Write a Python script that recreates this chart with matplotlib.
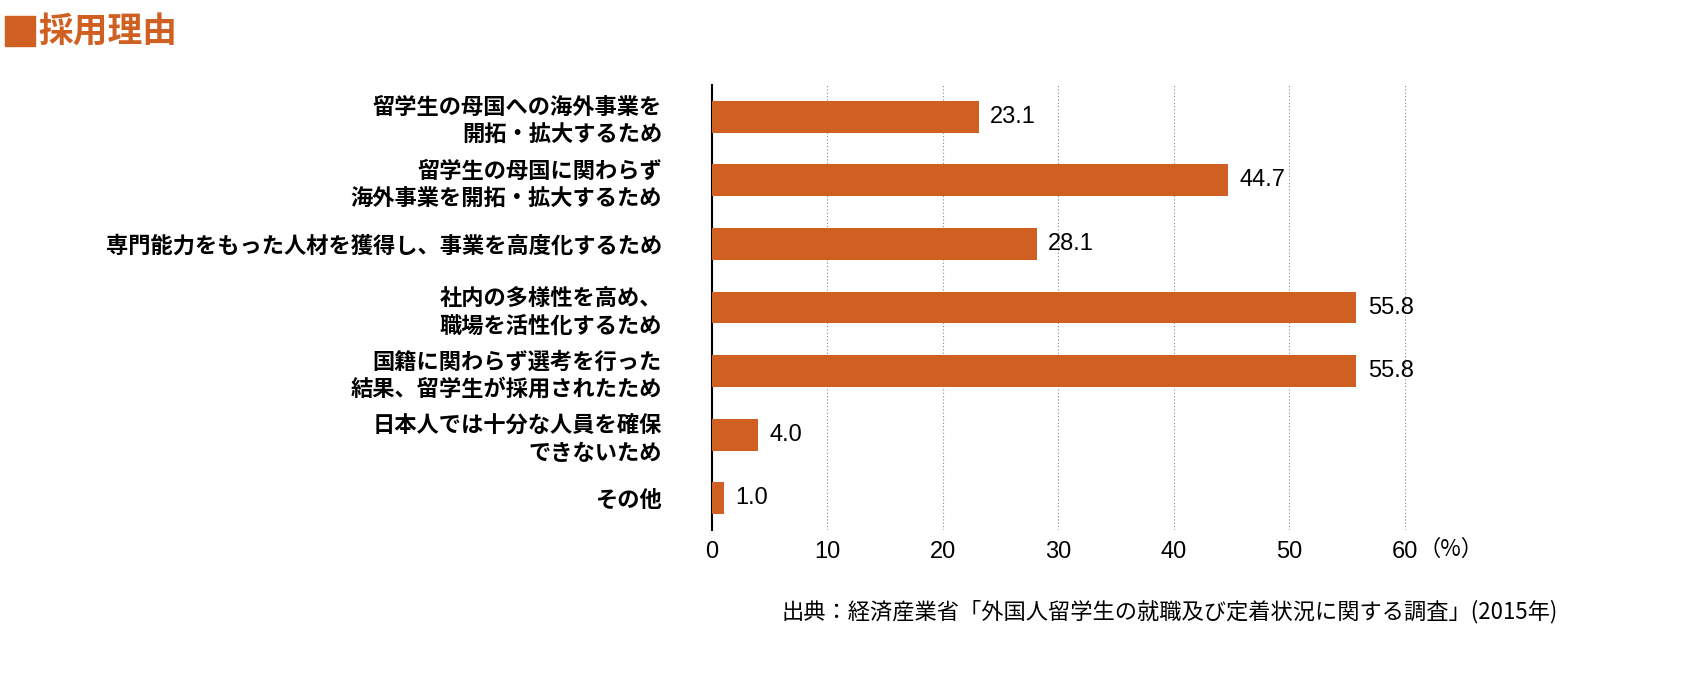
import matplotlib.pyplot as plt
from matplotlib.patches import Rectangle

plt.rcParams['font.family'] = 'Noto Sans CJK JP'

categories = [
    "留学生の母国への海外事業を\n開拓・拡大するため",
    "留学生の母国に関わらず\n海外事業を開拓・拡大するため",
    "専門能力をもった人材を獲得し、事業を高度化するため",
    "社内の多様性を高め、\n職場を活性化するため",
    "国籍に関わらず選考を行った\n結果、留学生が採用されたため",
    "日本人では十分な人員を確保\nできないため",
    "その他",
]
values = [23.1, 44.7, 28.1, 55.8, 55.8, 4.0, 1.0]
ticks = [0, 10, 20, 30, 40, 50, 60]

color = '#D05F22'
fig = plt.figure(figsize=(17, 6.99), dpi=100)
ax = fig.add_axes([712 / 1700, 169 / 699, (1428 - 712) / 1700, (614 - 169) / 699])

ypos = list(range(len(values)))
ax.barh(ypos, values, height=0.5, color=color, zorder=3)
for y, v in zip(ypos, values):
    ax.text(v + 1, y, f"{v:.1f}", va='center', ha='left', fontsize=17, fontfamily='Liberation Sans')

ax.set_ylim(len(values) - 0.5, -0.5)
ax.set_xlim(0, 62)
ax.set_yticks(ypos)
ax.set_yticklabels(categories, fontsize=16, fontweight='bold', linespacing=1.25, ha='right')
ax.tick_params(axis='y', length=0, pad=36)
ax.set_xticks(ticks)
ax.set_xticklabels([str(t) for t in ticks], fontsize=17, fontfamily='Liberation Sans')
ax.tick_params(axis='x', length=0, pad=8)
for t in ticks[1:]:
    ax.axvline(t, color='#888888', linestyle=(0, (1, 2)), linewidth=0.8, zorder=1)
for s in ['top', 'right', 'bottom']:
    ax.spines[s].set_visible(False)
ax.spines['left'].set_linewidth(1.5)
ax.text(1418 / 1700, 1 - 549 / 699, "（%）", transform=fig.transFigure, ha='left', va='center', fontsize=16)

fig.patches.append(Rectangle((5 / 1700, 1 - 46 / 699), 30 / 1700, 30 / 699,
                             transform=fig.transFigure, color=color))
fig.text(38 / 1700, 1 - 31 / 699, "採用理由", color=color, fontsize=25, fontweight='bold', va='center')
fig.text(1558 / 1700, 1 - 612 / 699, "出典：経済産業省「外国人留学生の就職及び定着状況に関する調査」(2015年)",
         ha='right', va='center', fontsize=16)

fig.savefig('out.png', dpi=100)
